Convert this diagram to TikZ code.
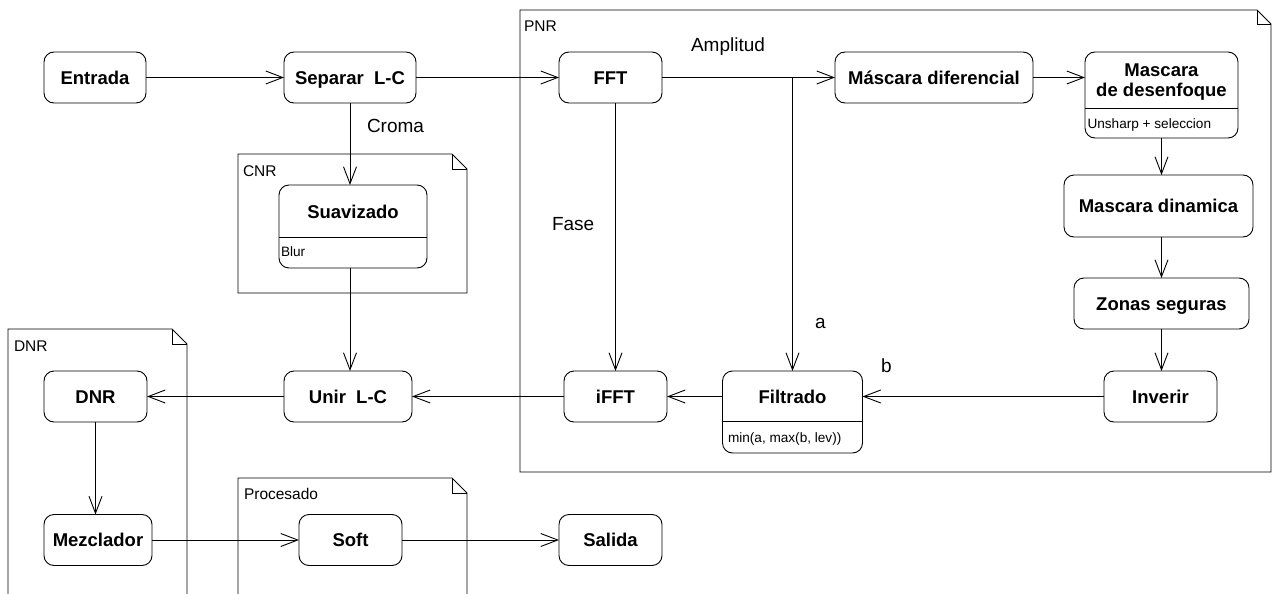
\documentclass[tikz,border=0pt]{standalone}
\usepackage{fontspec}
\setmainfont{Liberation Sans}
\usetikzlibrary{arrows.meta,calc}
\begin{document}
\begin{tikzpicture}[x=1pt,y=-1pt,
  every node/.style={inner sep=0pt, outer sep=0pt},
  box/.style={draw, rounded corners=10pt, line width=0.9pt, font=\fontsize{18.5}{22}\selectfont\bfseries, align=center, text height=13.3pt, text depth=0pt},
  ttl/.style={font=\fontsize{18.5}{20}\selectfont\bfseries, align=center},
  sub/.style={font=\fontsize{13.6}{16}\selectfont, anchor=base west},
  lbl/.style={font=\fontsize{19}{22}\selectfont, anchor=base west},
  pkglbl/.style={font=\fontsize{15.5}{18}\selectfont, anchor=base west},
  pkg/.style={draw, line width=0.9pt},
  conn/.style={draw, line width=0.9pt, -{Straight Barb[length=17pt,width=13pt,line width=0.9pt]}},
  ln/.style={draw, line width=0.9pt}
]
\useasboundingbox (0,0) rectangle (1272,594);

% packages
\draw[pkg] (520,10) -- (1257,10) -- (1271,24) -- (1271,472) -- (520,472) -- cycle;
\draw[pkg] (1257,10) -- (1257,24) -- (1271,24);
\node[pkglbl] (lpnr) at (524,31.7) {PNR};

\draw[pkg] (238,154) -- (452,154) -- (467,169) -- (467,293) -- (238,293) -- cycle;
\draw[pkg] (452,154) -- (452,169) -- (467,169);
\node[pkglbl] (lcnr) at (243,176) {CNR};

\draw[pkg] (8,600) -- (8,329) -- (172,329) -- (187,344) -- (187,600);
\draw[pkg] (172,329) -- (172,344) -- (187,344);
\node[pkglbl] (ldnr) at (14,351) {DNR};

\draw[pkg] (238,600) -- (238,478) -- (452,478) -- (467,493) -- (467,600);
\draw[pkg] (452,478) -- (452,493) -- (467,493);
\node[pkglbl] (lproc) at (244,499) {Procesado};

% simple nodes
\node[box, minimum width=102pt, minimum height=51pt] (entrada) at (95,77.5) {Entrada};
\node[box, minimum width=132pt, minimum height=51pt] (sep) at (350,77.5) {Separar\ \ L-C};
\node[box, minimum width=103pt, minimum height=51pt] (fft) at (610.5,77.5) {FFT};
\node[box, minimum width=198pt, minimum height=51pt] (mdif) at (934,77.5) {Máscara diferencial};
\node[box, minimum width=189pt, minimum height=62pt] (mdyn) at (1158.5,206) {Mascara dinamica};
\node[box, minimum width=175pt, minimum height=51pt] (zonas) at (1161.5,303.5) {Zonas seguras};
\node[box, minimum width=113pt, minimum height=51pt] (inv) at (1160.5,396.5) {Inverir};
\node[box, minimum width=103pt, minimum height=51pt] (ifft) at (615.5,396.5) {iFFT};
\node[box, minimum width=128pt, minimum height=51pt] (unir) at (348,396.5) {Unir\ \ L-C};
\node[box, minimum width=103pt, minimum height=51pt] (dnr) at (95.5,396.5) {DNR};
\node[box, minimum width=108pt, minimum height=51pt] (mez) at (98,540) {Mezclador};
\node[box, minimum width=103pt, minimum height=51pt] (soft) at (350.5,540) {Soft};
\node[box, minimum width=103pt, minimum height=51pt] (salida) at (610.5,540) {Salida};

% compartment nodes
\node[box, minimum width=153pt, minimum height=86pt] (mdes) at (1161.5,95) {};
\coordinate (dmdes) at (0,108);
\draw[ln] (mdes.west |- dmdes) -- (mdes.east |- dmdes);
\node[ttl] (tmdes) at (1161.5,82.2) {Mascara\\de desenfoque};
\node[sub] (smdes) at (1087.5,128.5) {Unsharp + seleccion};

\node[box, minimum width=148pt, minimum height=83pt] (suav) at (353,226.5) {};
\coordinate (dsuav) at (0,237);
\draw[ln] (suav.west |- dsuav) -- (suav.east |- dsuav);
\node[ttl, anchor=base] (tsuav) at (353,218.5) {Suavizado};
\node[sub] (ssuav) at (281,256) {Blur};

\node[box, minimum width=140pt, minimum height=82pt] (filt) at (792.5,412) {};
\coordinate (dfilt) at (0,421);
\draw[ln] (filt.west |- dfilt) -- (filt.east |- dfilt);
\node[ttl, anchor=base] (tfilt) at (792.5,403.5) {Filtrado};
\node[sub] (sfilt) at (728,442) {min(a, max(b, lev))};

% connectors
\draw[conn] (entrada.east) -- (sep.west);
\draw[conn] (sep.east) -- (fft.west);
\draw[conn] (fft.east) -- (mdif.west);
\draw[conn] (mdif.east) -- (mdif.east -| mdes.west);
\draw[conn] (filt.north |- fft.east) -- (filt.north);
\draw[conn] (ifft.north |- fft.south) -- (ifft.north);
\draw[conn] (mdes.south) -- (mdes.south |- mdyn.north);
\draw[conn] (mdes.south |- mdyn.south) -- (zonas.north);
\draw[conn] (zonas.south) -- (zonas.south |- inv.north);
\draw[conn] (inv.west) -- (inv.west -| filt.east);
\draw[conn] (ifft.east -| filt.west) -- (ifft.east);
\draw[conn] (ifft.west) -- (unir.east);
\draw[conn] (sep.south) -- (sep.south |- suav.north);
\draw[conn] (sep.south |- suav.south) -- (sep.south |- unir.north);
\draw[conn] (unir.west) -- (dnr.east);
\draw[conn] (dnr.south) -- (dnr.south |- mez.north);
\draw[conn] (mez.east) -- (soft.west);
\draw[conn] (soft.east) -- (salida.west);

% edge labels
\node[lbl] (lamp) at (691,52) {Amplitud};
\node[lbl] (lcroma) at (367,132) {Croma};
\node[lbl] (lfase) at (552,230) {Fase};
\node[lbl] (la) at (815,328) {a};
\node[lbl] (lb) at (881,372) {b};
\end{tikzpicture}
\end{document}
